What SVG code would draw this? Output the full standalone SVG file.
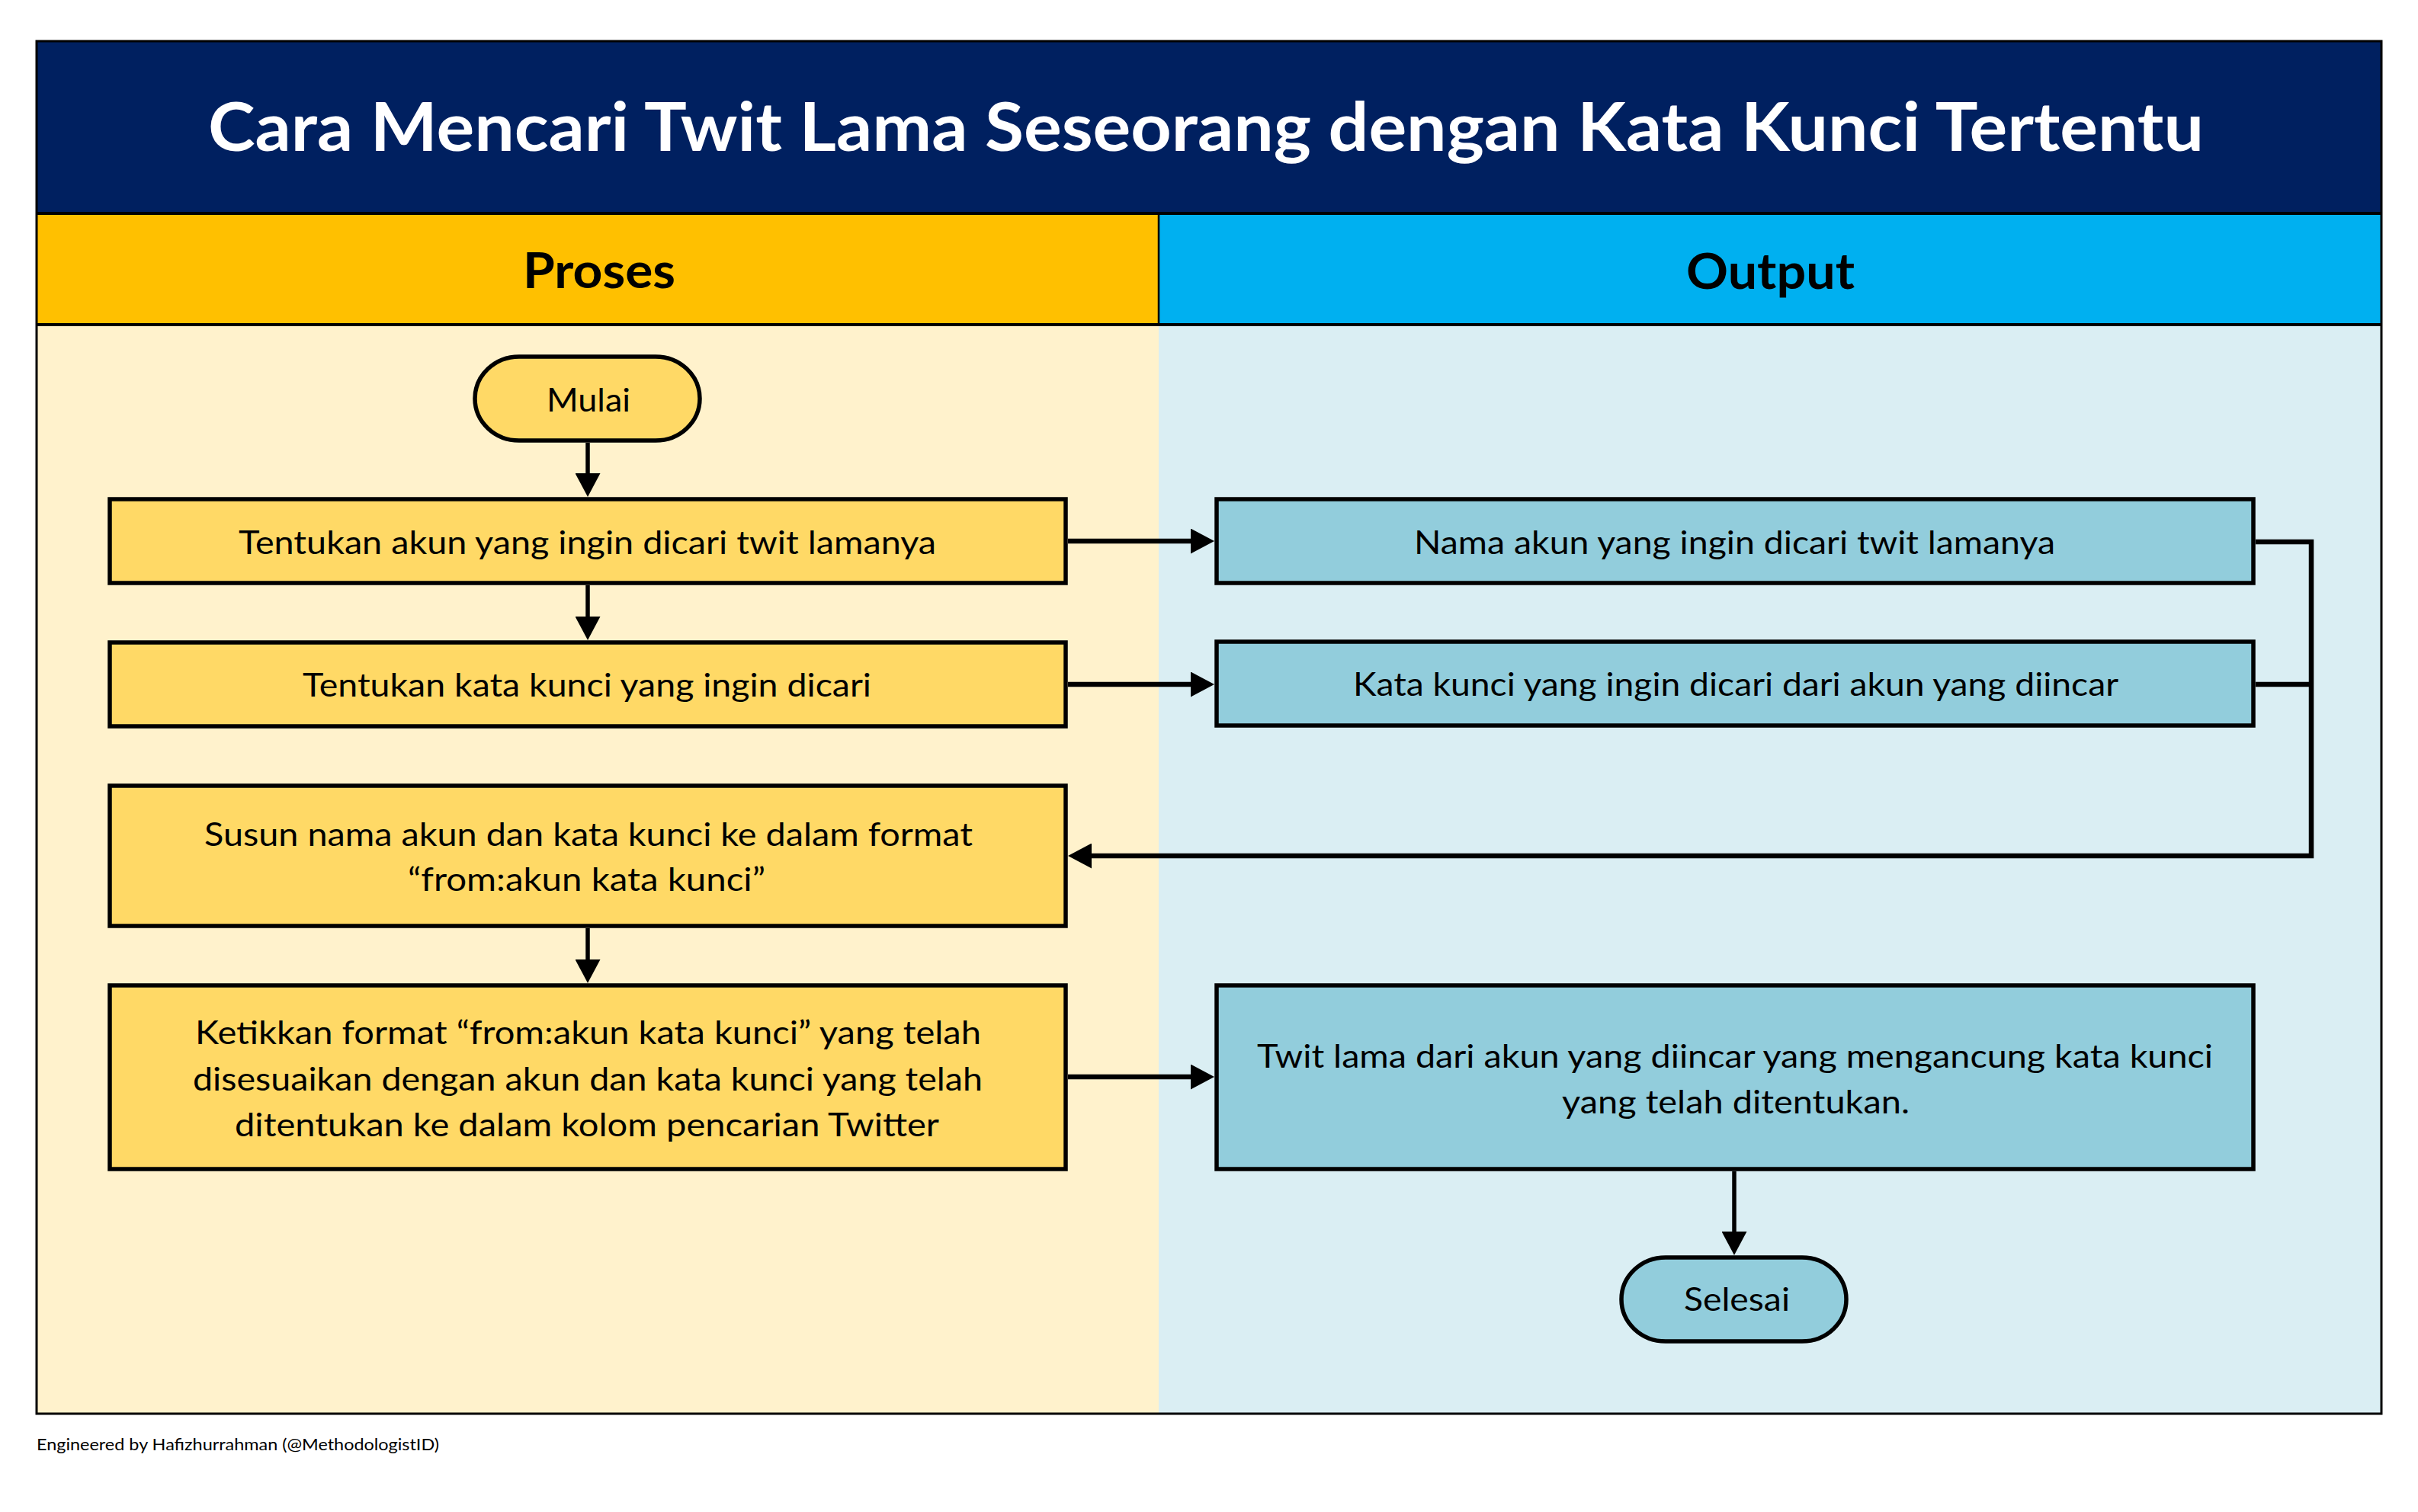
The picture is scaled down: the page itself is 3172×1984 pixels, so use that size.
<svg xmlns="http://www.w3.org/2000/svg" width="3172" height="1984" viewBox="0 0 3172 1984">
<style>
.t{font-family:Lato,"Open Sans","Liberation Sans",sans-serif;font-size:42px;fill:#000}
.b{font-weight:bold}
.box{stroke:#000;stroke-width:5.5}
.y{fill:#FFD966}
.bl{fill:#92CDDC}
.c{fill:none;stroke:#000}
.v{stroke-width:5.5}
.h{stroke-width:6.5}
</style>
<defs>
<marker id="arr" markerUnits="userSpaceOnUse" viewBox="0 0 31 33" refX="6" refY="16.5" markerWidth="31" markerHeight="33" orient="auto">
<path d="M0,0 L31,16.5 L0,33 z" fill="#000"/>
</marker>
</defs>
<rect x="0" y="0" width="3172" height="1984" fill="#fff"/>
<g id="background">
<rect x="48" y="54" width="3076" height="226" fill="#002060"/>
<rect x="48" y="280" width="1472" height="146" fill="#FFC000"/>
<rect x="1520" y="280" width="1604" height="146" fill="#00B0F0"/>
<rect x="48" y="426" width="1472" height="1429" fill="#FFF2CC"/>
<rect x="1520" y="426" width="1604" height="1429" fill="#DAEEF3"/>
<line x1="48" y1="280" x2="3124" y2="280" stroke="#000" stroke-width="4"/>
<line x1="48" y1="426" x2="3124" y2="426" stroke="#000" stroke-width="4"/>
<line x1="1520" y1="280" x2="1520" y2="426" stroke="#000" stroke-width="2.5"/>
<rect x="48" y="54" width="3076" height="1801" fill="none" stroke="#000" stroke-width="3"/>
</g>
<g id="title">
<text class="t b" x="273" y="198" font-size="88" style="font-size:88px" fill="#fff" textLength="2618" lengthAdjust="spacingAndGlyphs"><tspan fill="#fff">Cara Mencari Twit Lama Seseorang dengan Kata Kunci Tertentu</tspan></text>
</g>
<g id="lane-proses">
<text class="t b" x="686" y="378" style="font-size:65px" textLength="200" lengthAdjust="spacingAndGlyphs">Proses</text>
</g>
<g id="lane-output">
<text class="t b" x="2212" y="379" style="font-size:65px" textLength="221" lengthAdjust="spacingAndGlyphs">Output</text>
</g>
<g id="connectors">
<line class="c v" x1="771" y1="581" x2="771" y2="627" marker-end="url(#arr)"/>
<line class="c v" x1="771" y1="768" x2="771" y2="815" marker-end="url(#arr)"/>
<line class="c v" x1="771" y1="1218" x2="771" y2="1265" marker-end="url(#arr)"/>
<line class="c v" x1="2275" y1="1537" x2="2275" y2="1622" marker-end="url(#arr)"/>
<line class="c h" x1="1401" y1="710" x2="1568" y2="710" marker-end="url(#arr)"/>
<line class="c h" x1="1401" y1="898" x2="1568" y2="898" marker-end="url(#arr)"/>
<line class="c h" x1="1401" y1="1413" x2="1568" y2="1413" marker-end="url(#arr)"/>
<polyline class="c h" points="2959,711 3032,711 3032,1123 1426,1123" marker-end="url(#arr)"/>
<line class="c h" x1="2959" y1="898" x2="3032" y2="898"/>
</g>
<g id="mulai">
<rect class="box y" x="623" y="468" width="295" height="110" rx="58" ry="55"/>
<text class="t" x="717" y="540" textLength="110" lengthAdjust="spacingAndGlyphs">Mulai</text>
</g>
<g id="tentukan-akun">
<rect class="box y" x="144" y="655" width="1254" height="110"/>
<text class="t" x="313" y="727" textLength="915" lengthAdjust="spacingAndGlyphs">Tentukan akun yang ingin dicari twit lamanya</text>
</g>
<g id="tentukan-kata">
<rect class="box y" x="144" y="843" width="1254" height="110"/>
<text class="t" x="397" y="914" textLength="746" lengthAdjust="spacingAndGlyphs">Tentukan kata kunci yang ingin dicari</text>
</g>
<g id="susun">
<rect class="box y" x="144" y="1031" width="1254" height="184"/>
<text class="t" x="268" y="1110" textLength="1008" lengthAdjust="spacingAndGlyphs">Susun nama akun dan kata kunci ke dalam format</text>
<text class="t" x="535" y="1169" textLength="469" lengthAdjust="spacingAndGlyphs">“from:akun kata kunci”</text>
</g>
<g id="ketikkan">
<rect class="box y" x="144" y="1293" width="1254" height="241"/>
<text class="t" x="256" y="1370" textLength="1031" lengthAdjust="spacingAndGlyphs">Ketikkan format “from:akun kata kunci” yang telah</text>
<text class="t" x="253" y="1431" textLength="1036" lengthAdjust="spacingAndGlyphs">disesuaikan dengan akun dan kata kunci yang telah</text>
<text class="t" x="308" y="1491" textLength="924" lengthAdjust="spacingAndGlyphs">ditentukan ke dalam kolom pencarian Twitter</text>
</g>
<g id="nama-akun">
<rect class="box bl" x="1596" y="655" width="1360" height="110"/>
<text class="t" x="1855" y="727" textLength="841" lengthAdjust="spacingAndGlyphs">Nama akun yang ingin dicari twit lamanya</text>
</g>
<g id="kata-kunci">
<rect class="box bl" x="1596" y="842" width="1360" height="110"/>
<text class="t" x="1775" y="913" textLength="1004" lengthAdjust="spacingAndGlyphs">Kata kunci yang ingin dicari dari akun yang diincar</text>
</g>
<g id="twit-lama">
<rect class="box bl" x="1596" y="1293" width="1360" height="241"/>
<text class="t" x="1649" y="1401" textLength="1254" lengthAdjust="spacingAndGlyphs">Twit lama dari akun yang diincar yang mengancung kata kunci</text>
<text class="t" x="2049" y="1461" textLength="456" lengthAdjust="spacingAndGlyphs">yang telah ditentukan.</text>
</g>
<g id="selesai">
<rect class="box bl" x="2127" y="1650" width="295" height="110" rx="58" ry="55"/>
<text class="t" x="2209" y="1720" textLength="139" lengthAdjust="spacingAndGlyphs">Selesai</text>
</g>
<g id="footer">
<text class="t" x="48" y="1903" style="font-size:22px" textLength="528" lengthAdjust="spacingAndGlyphs">Engineered by Hafizhurrahman (@MethodologistID)</text>
</g>
</svg>
